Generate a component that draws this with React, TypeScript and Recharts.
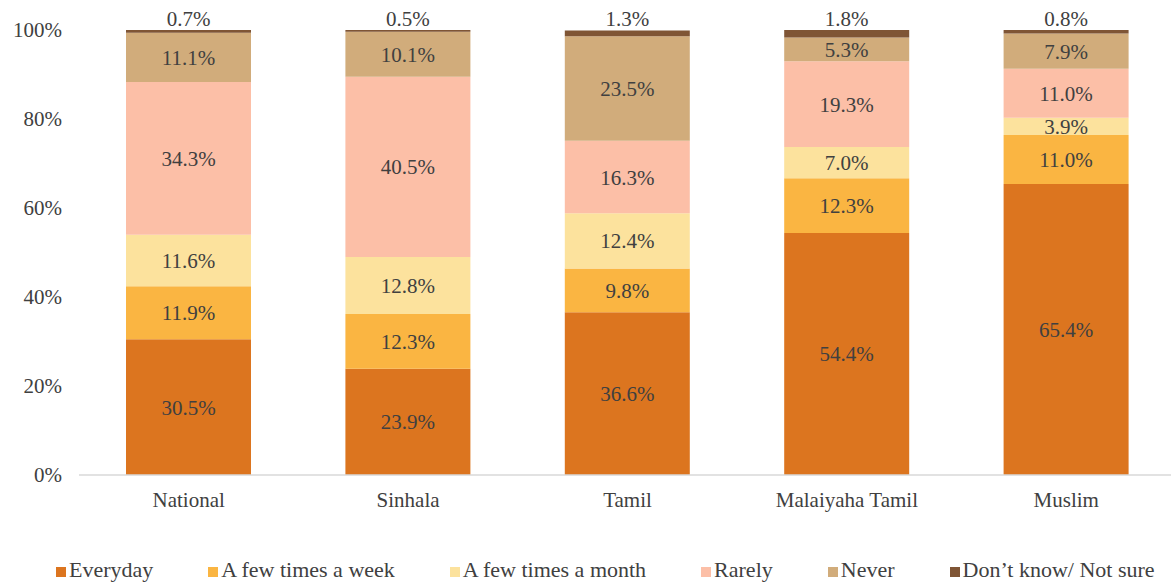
import React from "react";
import { BarChart, Bar, XAxis, YAxis, LabelList } from "recharts";

const categories = ["National", "Sinhala", "Tamil", "Malaiyaha Tamil", "Muslim"];
const everyday = [30.5, 23.9, 36.6, 54.4, 65.4];
const fewWeek = [11.9, 12.3, 9.8, 12.3, 11.0];
const fewMonth = [11.6, 12.8, 12.4, 7.0, 3.9];
const rarely = [34.3, 40.5, 16.3, 19.3, 11.0];
const never = [11.1, 10.1, 23.5, 5.3, 7.9];
const dontKnow = [0.7, 0.5, 1.3, 1.8, 0.8];
const yTicks = [0, 20, 40, 60, 80, 100];

const seriesNames = [
  "Everyday",
  "A few times a week",
  "A few times a month",
  "Rarely",
  "Never",
  "Don\u2019t know/ Not sure",
];
const seriesKeys = ["everyday", "fewWeek", "fewMonth", "rarely", "never", "dontKnow"];
const seriesColors = ["#DC751F", "#FAB542", "#FCE29D", "#FCBFA7", "#D1AC7B", "#7F5535"];
const seriesValues = [everyday, fewWeek, fewMonth, rarely, never, dontKnow];

const data = categories.map((c, i) => {
  const row: Record<string, any> = { name: c };
  seriesKeys.forEach((k, j) => {
    row[k] = seriesValues[j][i];
  });
  return row;
});

const FONT = "'Liberation Serif', 'Times New Roman', serif";
const TEXT = "#404040";

const fmt = (v: any) => `${Number(v).toFixed(1)}%`;

export default function App() {
  return (
    <div
      style={{
        position: "absolute",
        left: 0,
        top: 0,
        width: 1171,
        height: 584,
        overflow: "hidden",
        background: "#fff",
        fontFamily: FONT,
      }}
    >
      <BarChart
        width={1176}
        height={584}
        data={data}
        margin={{ top: 30, right: 0, left: 0, bottom: 0 }}
        barCategoryGap={47}
      >
        <XAxis
          dataKey="name"
          height={109}
          tickLine={false}
          axisLine={{ stroke: "#D9D9D9", strokeWidth: 1.5 }}
          tickMargin={11}
          tick={{ fill: TEXT, fontSize: 21, fontFamily: FONT }}
          interval={0}
        />
        <YAxis
          width={79}
          domain={[0, 100]}
          ticks={yTicks}
          allowDataOverflow
          tickLine={false}
          axisLine={false}
          tickMargin={11}
          tickFormatter={(v) => `${v}%`}
          tick={{ fill: TEXT, fontSize: 21, fontFamily: FONT }}
        />
        {seriesKeys.map((k, j) => (
          <Bar
            key={k}
            dataKey={k}
            name={seriesNames[j]}
            stackId="a"
            fill={seriesColors[j]}
            isAnimationActive={false}
          >
            <LabelList
              dataKey={k}
              position={j === seriesKeys.length - 1 ? "top" : "center"}
              offset={4}
              formatter={fmt}
              fill={TEXT}
              fontSize={21}
              fontFamily={FONT}
            />
          </Bar>
        ))}
      </BarChart>
      <div
        style={{
          position: "absolute",
          left: 56,
          top: 559,
          display: "flex",
          alignItems: "center",
          gap: 55,
          fontSize: 22,
          lineHeight: "21px",
          color: TEXT,
          fontFamily: FONT,
          whiteSpace: "nowrap",
        }}
      >
        {seriesNames.map((n, j) => (
          <div key={n} style={{ display: "flex", alignItems: "center" }}>
            <span
              style={{
                display: "inline-block",
                width: 10,
                height: 10,
                background: seriesColors[j],
                marginRight: 3,
                position: "relative",
                top: 2,
              }}
            />
            <span>{n}</span>
          </div>
        ))}
      </div>
    </div>
  );
}
